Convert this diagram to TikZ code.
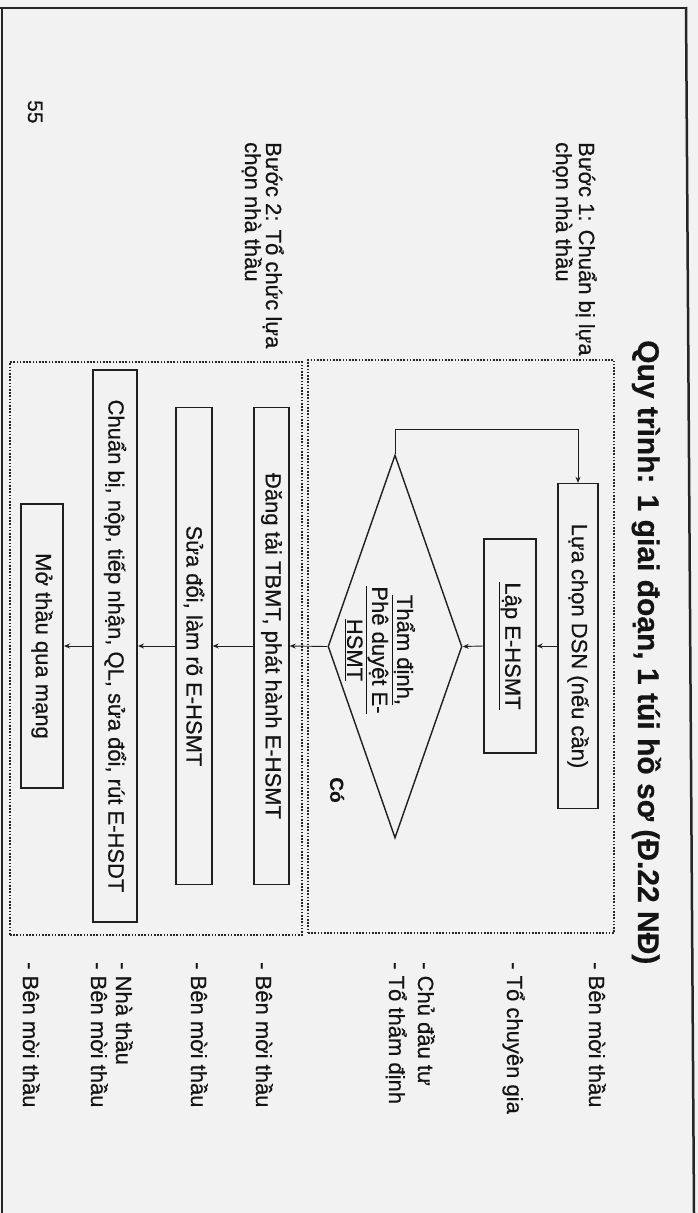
\documentclass[tikz,border=0pt]{standalone}
\usepackage{fontspec}
\setmainfont[FakeBold=0.5]{Liberation Sans}
\usetikzlibrary{arrows.meta,shapes.geometric}
\begin{document}
\begin{tikzpicture}[x=1pt,y=-1pt,
  txt/.style={font=\fontsize{22}{25}\selectfont, text=black!92, inner sep=0pt},
  vlabel/.style={txt, rotate=-90, anchor=base west},
  procbox/.style={txt, rotate=-90, draw=black!88, line width=1.4pt, align=center},
  decision/.style={diamond, draw=black!88, line width=1.4pt, inner sep=0pt},
  flow/.style={draw=black!88, line width=0.9pt, -{Stealth[length=6pt,width=5pt]}},
  grp/.style={draw=black!85, line width=1.5pt, dash pattern=on 1.6pt off 1.6pt, inner sep=0pt},
]
% page background and bounds
\fill[black!5] (0,0) rectangle (698,1213);
\useasboundingbox (0,0) rectangle (698,1213);

% page frame
\draw[line width=2.5pt, black!85] (0,8) -- (687,8);
\draw[line width=2.5pt, black!85] (686,7) -- (694,1213);
\draw[line width=2pt, black!85] (1.5,8) -- (1.5,1213);

% title
\node[vlabel, font=\fontsize{30}{34}\selectfont\bfseries] (title) at (638,340)
  {Quy trình: 1 giai đoạn, 1 túi hồ sơ (Đ.22 NĐ)};

% stage groups
\node[grp, minimum width=306pt, minimum height=573pt] (stage1) at (461,646.5) {};
\node[grp, minimum width=292pt, minimum height=573pt] (stage2) at (156,648.5) {};

% stage 1
\node[procbox, minimum width=325pt, minimum height=40pt] (dsn) at (578,646) {Lựa chọn DSN (nếu cần)};
\node[procbox, minimum width=214pt, minimum height=52pt] (lap) at (510,646) {\underline{Lập E-HSMT}};
\node[decision, minimum width=134pt, minimum height=383pt] (dia) at (395,646.5) {};
\node[txt, rotate=-90, align=center] (diatext) at (380,650)
  {\underline{Thẩm định,}\\\underline{Phê duyệt E-}\\\underline{HSMT}};
\node[txt, rotate=-90, font=\fontsize{19}{22}\selectfont\bfseries] (yes) at (337,790) {Có};

% stage 2
\node[procbox, minimum width=477pt, minimum height=35pt] (dang) at (271.5,646) {Đăng tải TBMT, phát hành E-HSMT};
\node[procbox, minimum width=477pt, minimum height=36pt] (sua) at (194,646) {Sửa đổi, làm rõ E-HSMT};
\node[procbox, line width=2pt, minimum width=552pt, minimum height=44pt] (chuan) at (115,646) {Chuẩn bị, nộp, tiếp nhận, QL, sửa đổi, rút E-HSDT};
\node[procbox, line width=2pt, minimum width=284pt, minimum height=42pt] (mo) at (42,646) {Mở thầu qua mạng};

% connectors
\draw[flow] (dsn.south) -- (lap.north);
\draw[flow] (lap.south) -- (dia.east);
\draw[flow] (dia.west) -- (dang.north);
\draw[flow] (dang.south) -- (sua.north);
\draw[flow] (sua.south) -- (chuan.north);
\draw[flow] (chuan.south) -- (mo.north);
\draw[flow] (dia.north) -- ++(0,-25) -| (dsn.west);

% step labels
\node[vlabel] (step1a) at (579,142) {Bước 1: Chuẩn bị lựa};
\node[vlabel] (step1b) at (556,142) {chọn nhà thầu};
\node[vlabel] (step2a) at (266,142) {Bước 2: Tổ chức lựa};
\node[vlabel] (step2b) at (245,142) {chọn nhà thầu};
\node[vlabel, font=\fontsize{21}{24}\selectfont] (pageno) at (28,100) {55};

% responsible parties
\node[vlabel] (r1) at (589,962) {- Bên mời thầu};
\node[vlabel] (r2) at (507,962) {- Tổ chuyên gia};
\node[vlabel] (r3a) at (418,962) {- Chủ đầu tư};
\node[vlabel] (r3b) at (389,962) {- Tổ thẩm định};
\node[vlabel] (r4) at (256,962) {- Bên mời thầu};
\node[vlabel] (r5) at (191,962) {- Bên mời thầu};
\node[vlabel] (r6a) at (116,962) {- Nhà thầu};
\node[vlabel] (r6b) at (91,962) {- Bên mời thầu};
\node[vlabel] (r7) at (23,962) {- Bên mời thầu};
\end{tikzpicture}
\end{document}
